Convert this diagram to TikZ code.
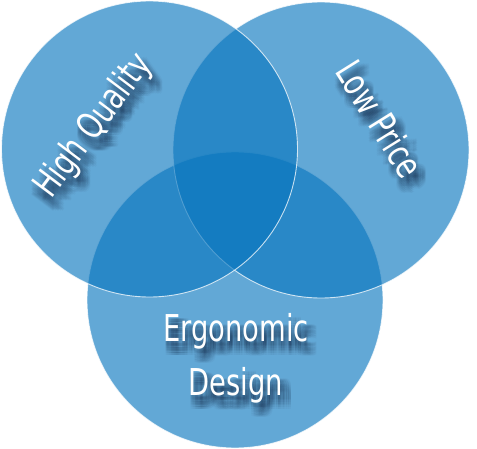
\documentclass[tikz,border=0pt]{standalone}
\usepackage{fontspec}
\usetikzlibrary{calc}
\newfontfamily\labelfont[FakeStretch=0.74]{DejaVu Sans}
\definecolor{vennblue}{RGB}{7,117,190}
\definecolor{shadowcol}{RGB}{20,40,70}
\tikzset{
  venn/.style={fill=vennblue, fill opacity=0.63, draw=white, draw opacity=0.75, line width=0.9pt},
  lbl/.style={text=white, font=\labelfont\fontsize{37}{54}\selectfont, align=center, inner sep=0pt},
  lblshadow/.style={lbl, text=shadowcol, text opacity=0.035},
}
% label with a soft drop shadow: name, position, rotation, text
\newcommand\shadowedlabel[4]{%
  \foreach \sx in {-3,...,3} {
    \foreach \sy in {-3,...,3} {
      \node[lblshadow, rotate=#3] (#1-s) at ($(#2)+(5+1.7*\sx,9+1.7*\sy)$) {#4};
    }
  }
  \node[lbl, rotate=#3] (#1) at (#2) {#4};
}
\begin{document}
\begin{tikzpicture}[x=1pt, y=-1pt]
  \useasboundingbox (0,0) rectangle (477,449);
  % the three sets, drawn bottom first so later rims stay bright
  \draw[venn] (235,300) circle (148);
  \draw[venn] (321,150) circle (148);
  \draw[venn] (149.5,149) circle (148);
  % labels
  \shadowedlabel{hq}{94,126}{53}{High Quality}
  \shadowedlabel{lp}{380,119}{-58}{Low Price}
  \shadowedlabel{ed}{236,358}{0}{Ergonomic\\Design}
\end{tikzpicture}
\end{document}
